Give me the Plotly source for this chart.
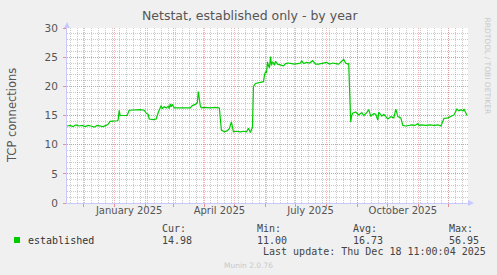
import plotly.graph_objects as go

# ---- data ----
dates = [
    "2024-11-15","2024-11-18","2024-11-21","2024-11-24","2024-11-27","2024-11-30","2024-12-03","2024-12-06",
    "2024-12-09","2024-12-12","2024-12-15","2024-12-18","2024-12-21","2024-12-24","2024-12-26","2024-12-28",
    "2025-01-01","2025-01-04","2025-01-05","2025-01-06","2025-01-07","2025-01-11","2025-01-14","2025-01-16",
    "2025-01-21","2025-01-27","2025-01-31","2025-02-02","2025-02-04","2025-02-05","2025-02-09","2025-02-12",
    "2025-02-14","2025-02-16","2025-02-17","2025-02-18","2025-02-20","2025-02-22","2025-02-24","2025-02-25",
    "2025-02-26","2025-02-27","2025-02-28","2025-03-02","2025-03-08","2025-03-14","2025-03-18","2025-03-20",
    "2025-03-23","2025-03-25","2025-03-26","2025-03-28","2025-03-29","2025-04-02","2025-04-07","2025-04-12",
    "2025-04-16","2025-04-18","2025-04-21","2025-04-24","2025-04-26","2025-04-28","2025-04-30","2025-05-03",
    "2025-05-07","2025-05-10","2025-05-13","2025-05-15","2025-05-17","2025-05-19","2025-05-20","2025-05-22",
    "2025-05-25","2025-05-28","2025-05-30","2025-05-31","2025-06-01","2025-06-02","2025-06-03","2025-06-04",
    "2025-06-05","2025-06-06","2025-06-07","2025-06-08","2025-06-09","2025-06-10","2025-06-11","2025-06-13",
    "2025-06-16","2025-06-19","2025-06-21","2025-06-24","2025-06-27","2025-06-30","2025-07-03","2025-07-06",
    "2025-07-07","2025-07-09","2025-07-12","2025-07-15","2025-07-18","2025-07-21","2025-07-24","2025-07-28",
    "2025-08-01","2025-08-04","2025-08-07","2025-08-10","2025-08-13","2025-08-16","2025-08-18","2025-08-20",
    "2025-08-22","2025-08-23","2025-08-25","2025-08-26","2025-08-27","2025-08-30","2025-09-01","2025-09-02",
    "2025-09-05","2025-09-07","2025-09-10","2025-09-12","2025-09-14","2025-09-17","2025-09-19","2025-09-21",
    "2025-09-22","2025-09-25","2025-09-27","2025-10-01","2025-10-04","2025-10-07","2025-10-09","2025-10-11",
    "2025-10-14","2025-10-16","2025-10-19","2025-10-22","2025-10-25","2025-10-28","2025-10-31","2025-11-01",
    "2025-11-04","2025-11-08","2025-11-12","2025-11-16","2025-11-20","2025-11-23","2025-11-26","2025-11-30",
    "2025-12-03","2025-12-06","2025-12-09","2025-12-11","2025-12-13","2025-12-15","2025-12-16","2025-12-19",
]
established = [
    13.2,13.3,13.1,13.4,13.2,13.3,13.1,13.3,
    13.2,13.0,13.3,13.2,13.1,13.3,13.5,14.0,
    14.0,14.1,14.2,15.9,15.0,15.0,15.0,15.9,
    16.0,16.0,15.9,15.4,15.2,14.4,14.3,14.4,
    15.5,16.3,16.7,16.2,16.5,16.3,16.6,16.2,
    17.0,16.5,16.9,16.3,16.3,16.3,16.3,16.7,
    16.9,17.2,19.1,16.6,16.3,16.4,16.3,16.4,
    16.3,12.5,12.2,12.4,12.8,13.9,12.2,12.3,
    12.2,12.3,12.2,12.8,12.1,13.0,20.0,20.5,
    20.6,20.8,20.8,21.9,22.5,22.3,24.2,23.5,
    23.2,25.1,23.6,24.2,24.0,23.6,24.3,23.8,
    23.6,23.5,23.9,24.0,23.9,23.8,23.9,24.0,
    24.4,23.9,24.1,24.0,24.4,23.8,23.8,23.9,
    24.1,23.8,24.0,23.9,23.8,24.3,24.6,24.0,
    23.8,23.9,13.9,15.0,15.4,15.6,15.2,15.1,
    15.5,15.0,15.5,16.0,14.9,15.3,15.2,14.2,
    15.6,14.9,15.2,14.4,14.8,14.6,16.1,14.8,
    14.6,13.3,13.2,13.3,13.4,13.3,13.6,13.3,
    13.4,13.3,13.4,13.3,13.4,13.2,14.5,14.6,
    14.8,15.1,16.1,15.8,16.0,15.8,16.1,14.98,
]
x_range = ["2024-11-15", "2025-12-20"]
month_starts = ["2024-12-01","2025-01-01","2025-02-01","2025-03-01","2025-04-01","2025-05-01",
                "2025-06-01","2025-07-01","2025-08-01","2025-09-01","2025-10-01","2025-11-01","2025-12-01"]
label_dates = ["2025-01-16", "2025-04-16", "2025-07-16", "2025-10-16"]
label_texts = ["January 2025", "April 2025", "July 2025", "October 2025"]
y_ticks = [0, 5, 10, 15, 20, 25, 30]

title = "Netstat, established only - by year"
y_title = "TCP connections"
series_name = "established"
stat_labels = ["Cur:", "Min:", "Avg:", "Max:"]
stat_values = ["14.98", "11.00", "16.73", "56.95"]
last_update = "Last update: Thu Dec 18 11:00:04 2025"
credit = "RRDTOOL / TOBI OETIKER"
version = "Munin 2.0.76"

# ---- layout helpers (pixel -> paper) ----
W, H = 497, 275
L, R, T, B = 67, 468, 28, 203
def px(x): return (x - L) / (R - L)
def py(y): return (B - y) / (B - T)

SANS = "DejaVu Sans"
MONO = "DejaVu Sans Mono"
GREEN = "#00CC00"
MAJOR_GRID = "rgba(230,120,120,0.55)"
MINOR_GRID = "rgba(150,150,150,0.5)"
AXIS = "#C8C8FF"

fig = go.Figure()
fig.add_trace(go.Scatter(x=dates, y=established, mode="lines", line=dict(color=GREEN, width=1.2),
                         showlegend=False, hoverinfo="skip"))
# invisible trace to carry the label axis
fig.add_trace(go.Scatter(x=label_dates, y=[None]*len(label_dates), xaxis="x2", mode="lines",
                         showlegend=False, hoverinfo="skip"))

fig.update_layout(
    width=W, height=H,
    margin=dict(l=L, r=W - R, t=T, b=H - B, pad=0),
    paper_bgcolor="#F0F0F0", plot_bgcolor="#FFFFFF",
    font=dict(family=SANS, size=10, color="#555555"),
    xaxis=dict(range=x_range, type="date", tickmode="array", tickvals=month_starts,
               showticklabels=False, ticks="outside", ticklen=3, tickcolor="rgba(230,120,120,0.8)",
               showgrid=True, gridcolor=MAJOR_GRID, griddash="1px,1px", gridwidth=1,
               minor=dict(tickmode="linear", tick0="2024-11-18", dtick=7*86400000, showgrid=True,
                          gridcolor=MINOR_GRID, griddash="1px,1px", ticks=""),
               showline=True, linecolor=AXIS, linewidth=1, zeroline=False, fixedrange=True),
    xaxis2=dict(range=x_range, type="date", overlaying="x", side="bottom", tickmode="array",
                tickvals=label_dates, ticktext=label_texts, showgrid=False, ticks="", showline=False,
                zeroline=False, tickfont=dict(family=SANS, size=10, color="#555555")),
    yaxis=dict(range=[0, 30], tickmode="array", tickvals=y_ticks, ticks="outside", ticklen=3,
               tickcolor="rgba(230,120,120,0.8)",
               showgrid=True, gridcolor=MAJOR_GRID, griddash="1px,1px",
               minor=dict(tickmode="linear", tick0=0, dtick=1, showgrid=True,
                          gridcolor=MINOR_GRID, griddash="1px,1px", ticks=""),
               showline=True, linecolor=AXIS, linewidth=1, zeroline=False,
               ticklabelstandoff=3, tickfont=dict(family=SANS, size=10.5, color="#555555")),
    showlegend=False,
)

ann = []
ann.append(dict(text=title, x=px(250), y=py(15), xref="paper", yref="paper", showarrow=False,
                xanchor="center", yanchor="middle", font=dict(family=SANS, size=12.5, color="#555555")))
ann.append(dict(text=y_title, x=px(12), y=py(116), xref="paper", yref="paper", showarrow=False,
                textangle=-90, xanchor="center", yanchor="middle", font=dict(family=SANS, size=11.5, color="#555555")))
ann.append(dict(text=credit, x=px(487), y=py(15), xref="paper", yref="paper", showarrow=False,
                textangle=90, xanchor="center", yanchor="top", font=dict(family=SANS, size=7.5, color="#C8C8C8")))
ann.append(dict(text=series_name, x=px(26), y=py(240), xref="paper", yref="paper", showarrow=False,
                xanchor="left", yanchor="middle", font=dict(family=MONO, size=10, color="#333333")))
stat_x = [160, 255, 351, 447]
for sx, lab, val in zip(stat_x, stat_labels, stat_values):
    ann.append(dict(text=lab, x=px(sx), y=py(228), xref="paper", yref="paper", showarrow=False,
                    xanchor="left", yanchor="middle", font=dict(family=MONO, size=10, color="#444444")))
    ann.append(dict(text=val, x=px(sx), y=py(240), xref="paper", yref="paper", showarrow=False,
                    xanchor="left", yanchor="middle", font=dict(family=MONO, size=10, color="#444444")))
ann.append(dict(text=last_update, x=px(261), y=py(251), xref="paper", yref="paper", showarrow=False,
                xanchor="left", yanchor="middle", font=dict(family=MONO, size=10, color="#444444")))
ann.append(dict(text=version, x=px(248), y=py(265), xref="paper", yref="paper", showarrow=False,
                xanchor="center", yanchor="middle", font=dict(family=SANS, size=7.5, color="#C8C8C8")))
fig.update_layout(annotations=ann)

shapes = [
    # legend colour box
    dict(type="rect", xref="paper", yref="paper", x0=px(14), x1=px(20), y0=py(243), y1=py(237),
         fillcolor=GREEN, line=dict(width=0)),
    # axis arrows
    dict(type="path", xref="paper", yref="paper",
         path=f"M {px(64)},{py(28)} L {px(70)},{py(28)} L {px(67)},{py(22)} Z",
         fillcolor=AXIS, line=dict(width=0)),
    dict(type="path", xref="paper", yref="paper",
         path=f"M {px(468)},{py(200)} L {px(468)},{py(206)} L {px(474)},{py(203)} Z",
         fillcolor=AXIS, line=dict(width=0)),
]
fig.update_layout(shapes=shapes)

fig.write_html("out.html")
